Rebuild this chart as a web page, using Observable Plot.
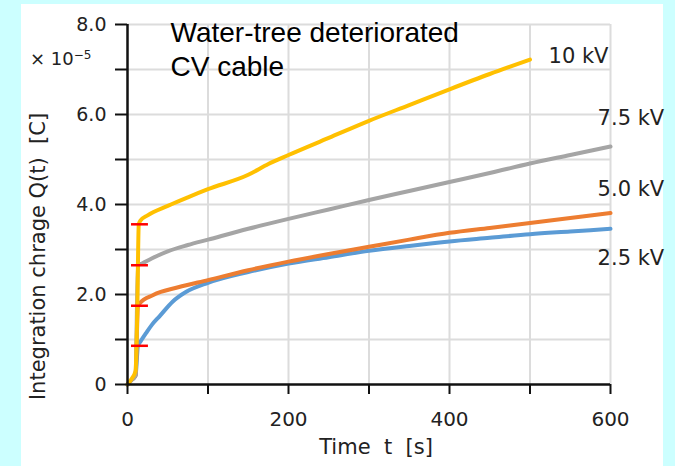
<!DOCTYPE html>
<html><head><meta charset="utf-8">
<script src="https://cdn.jsdelivr.net/npm/d3@7"></script>
<script src="https://cdn.jsdelivr.net/npm/@observablehq/plot@0.6"></script>
<style>
html,body{margin:0;padding:0;background:#ccffff;width:675px;height:466px;overflow:hidden;}
#panel{position:absolute;left:21px;top:4px;width:642px;height:462px;background:#fff;}
#chart{position:absolute;left:0;top:0;}
#exp{position:absolute;left:30px;top:49px;font-family:"DejaVu Sans";font-size:18px;line-height:20px;color:#222;white-space:nowrap;}
#exp sup{font-size:12px;vertical-align:6px;line-height:0;}
</style></head><body>
<div id="panel"></div>
<div id="chart"></div>
<div id="exp">× 10<sup>−5</sup></div>
<script>
// ---- data (Q in units of 1e-5 C) ----
const seriesNames = ["2.5 kV", "5.0 kV", "7.5 kV", "10 kV"];
const seriesColors = ["#5B9BD5", "#ED7D31", "#A5A5A5", "#FFC000"];

const t25 = [0, 5, 10, 13, 16, 23, 30, 40, 56, 73, 100, 150, 200, 250, 300, 350, 400, 450, 500, 550, 600];
const q25 = [0, 0.10, 0.20, 0.86, 0.95, 1.14, 1.32, 1.52, 1.84, 2.06, 2.26, 2.50, 2.69, 2.83, 2.97, 3.08, 3.18, 3.26, 3.34, 3.40, 3.46];

const t50 = [0, 5, 10, 13, 15, 32, 63, 100, 150, 200, 250, 300, 350, 400, 450, 500, 550, 600];
const q50 = [0, 0.10, 0.20, 1.75, 1.80, 1.99, 2.16, 2.32, 2.54, 2.73, 2.90, 3.06, 3.22, 3.37, 3.48, 3.59, 3.70, 3.81];

const t75 = [0, 5, 10, 13, 18, 30, 50, 75, 100, 150, 200, 250, 300, 350, 400, 450, 500, 550, 600];
const q75 = [0, 0.10, 0.20, 2.65, 2.69, 2.80, 2.96, 3.10, 3.22, 3.46, 3.68, 3.89, 4.10, 4.30, 4.50, 4.70, 4.91, 5.10, 5.29];

const t100 = [0, 5, 10, 12, 14, 16, 25, 50, 75, 100, 150, 175, 200, 250, 300, 350, 400, 450, 500];
const q100 = [0, 0.12, 0.30, 1.50, 3.56, 3.64, 3.76, 3.97, 4.16, 4.34, 4.66, 4.90, 5.10, 5.48, 5.86, 6.21, 6.56, 6.90, 7.22];

const markLevels = [3.56, 2.65, 1.75, 0.86];   // red start markers
const markSpan = [5, 26];

const xTicks = [0, 100, 200, 300, 400, 500, 600];
const yTicks = [0, 1, 2, 3, 4, 5, 6, 7, 8];

const labelText = ["10 kV", "7.5 kV", "5.0 kV", "2.5 kV"];
const labelT = [523, 584, 584, 584];
const labelQ = [7.3, 5.92, 4.34, 2.81];

const title = "Water-tree deteriorated\nCV cable";
const xLabel = "Time\u00a0\u00a0t\u00a0\u00a0[s]";
const yLabel = "Integration chrage Q(t)\u00a0\u00a0[C]";

// ---- build rows ----
const allT = [t25, t50, t75, t100];
const allQ = [q25, q50, q75, q100];
const rows = [];
seriesNames.forEach((s, i) => allT[i].forEach((t, j) => rows.push({series: s, t, q: allQ[i][j]})));
const labels = labelText.map((text, i) => ({text, t: labelT[i], q: labelQ[i]}));

const font = "'DejaVu Sans', sans-serif";

const chart = Plot.plot({
  width: 675,
  height: 466,
  marginLeft: 127,
  marginRight: 65,
  marginTop: 24,
  marginBottom: 82,
  style: {background: "transparent", fontFamily: font, color: "#222", overflow: "visible"},
  x: {domain: [0, 600]},
  y: {domain: [0, 8]},
  color: {domain: seriesNames, range: seriesColors},
  marks: [
    Plot.gridX(xTicks.filter(d => d > 0), {stroke: "#dcdcdc", strokeOpacity: 1, strokeWidth: 2}),
    Plot.gridY(yTicks.filter(d => d > 0), {stroke: "#dcdcdc", strokeOpacity: 1, strokeWidth: 2}),
    Plot.line(rows, {x: "t", y: "q", z: "series", stroke: "series", strokeWidth: 4, curve: "monotone-x"}),
    Plot.ruleY(markLevels, {x1: markSpan[0], x2: markSpan[1], stroke: "#ff0000", strokeWidth: 2.5}),
    Plot.axisX(xTicks, {tickSize: 10, tickPadding: 17, fontSize: 20, label: null,
      tickFormat: d => d % 200 === 0 ? String(d) : "", stroke: "#111", strokeWidth: 2, fill: "#222"}),
    Plot.axisY(yTicks, {tickSize: 12, tickPadding: 9, fontSize: 19, label: null,
      tickFormat: d => d === 0 ? "0" : (d % 2 === 0 ? d.toFixed(1) : ""), stroke: "#111", strokeWidth: 2, fill: "#222"}),
    Plot.ruleX([0], {stroke: "#111", strokeWidth: 2.5}),
    Plot.ruleY([0], {stroke: "#111", strokeWidth: 2.5}),
    Plot.text(labels, {x: "t", y: "q", text: "text", textAnchor: "start", fontSize: 21, fill: "#222"}),
    Plot.text([title], {frameAnchor: "top-left", dx: 43, dy: -6, lineAnchor: "top", text: d => d,
      fontFamily: "'Liberation Sans', Arial, sans-serif", fontSize: 28, fill: "#000", lineHeight: 1.2}),
    Plot.text([yLabel], {frameAnchor: "left", textAnchor: "middle", rotate: -90, dx: -89, dy: 52, text: d => d, fontSize: 21, fill: "#222"}),
    Plot.text([xLabel], {frameAnchor: "bottom", textAnchor: "middle", dx: 7, dy: 69, text: d => d, fontSize: 21, fill: "#222"})
  ]
});
document.getElementById("chart").appendChild(chart);
</script></body></html>
